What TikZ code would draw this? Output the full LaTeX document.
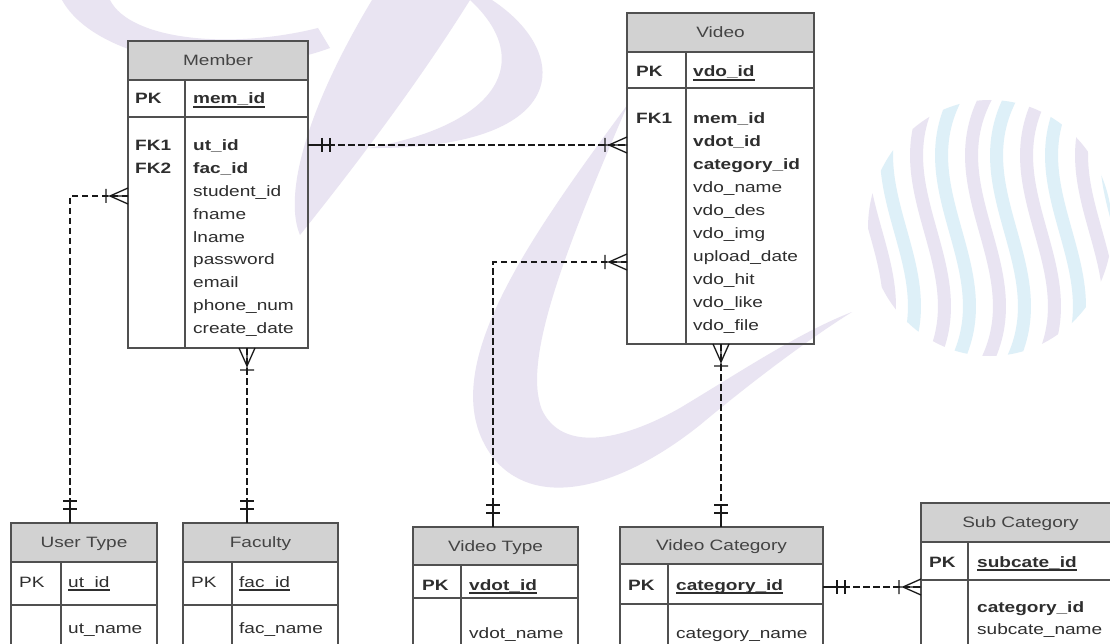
\documentclass[tikz,border=0pt]{standalone}
\usepackage{fontspec}
\setmainfont{Liberation Sans}[FakeStretch=1.27]
\usetikzlibrary{calc}

\definecolor{ink}{HTML}{2E2E2E}
\definecolor{titleink}{HTML}{444444}
\definecolor{frame}{HTML}{505050}
\definecolor{headfill}{HTML}{D2D2D2}
\definecolor{wmviolet}{HTML}{E9E4F2}
\definecolor{wmblue}{HTML}{DEF0F8}

% underlined primary key with a heavier rule
\newcommand\keyul[1]{\setbox0\hbox{#1}\rlap{\rule[-3.6pt]{\wd0}{1.2pt}}\box0}

% one entity: name, left, top, right, bottom, header bottom, key row bottom, divider x, title
\newcommand\entity[9]{%
  \node[tbox, minimum width={#4-#2}, minimum height={#5-#3}] (#1) at (#2,#3) {};
  \node[thead, minimum width={#4-#2}, minimum height={#6-#3}] (#1-head) at (#2,#3) {#9};
  \draw[rulel] (#2,#7) -- (#4,#7) (#8,#6) -- (#8,#5);
}

\begin{document}
\begin{tikzpicture}[x=1pt, y=-1pt,
  tbox/.style={draw=frame, line width=1.4pt, inner sep=0pt, outer sep=0pt, anchor=north west},
  thead/.style={tbox, fill=headfill, text=titleink, text height=10.7pt, text depth=0pt,
                font=\fontsize{15}{18}\selectfont},
  rulel/.style={draw=frame, line width=1.4pt},
  fld/.style={anchor=base west, inner sep=0pt, text=ink, font=\fontsize{15}{18}\selectfont},
  rel/.style={draw=black!90, line width=1.3pt, dash pattern=on 6.5pt off 3.5pt},
  relsolid/.style={draw=black!90, line width=1.3pt, solid},
  crowfoot/.pic={\draw[relsolid] (0,-8) -- (18,0) -- (0,8) (0,0) -- (22,0) (22,-7) -- (22,7);},
  onlyone/.pic={\draw[relsolid] (0,0) -- (23,0) (14,-7) -- (14,7) (22,-7) -- (22,7);}
]
\useasboundingbox (0,0) rectangle (1110,644);
\clip (0,0) rectangle (1110,644);
\fill[white] (0,0) rectangle (1110,644);

% ---- faint logo in the background ----
% sweeping loop at the top left
\fill[wmviolet] (62,0) .. controls (95,60) and (230,85) .. (330,48)
   -- (318,28) .. controls (230,50) and (130,40) .. (110,0) -- cycle;
% diagonal stroke from the top edge
\fill[wmviolet] (372,0) -- (470,0) .. controls (420,80) and (360,160) .. (300,235)
   .. controls (285,200) and (300,120) .. (372,0) -- cycle;
% bowl of the letter
\fill[wmviolet] (492,0) .. controls (575,55) and (570,150) .. (368,148)
   .. controls (500,125) and (535,60) .. (470,0) -- cycle;
% large open curve in the middle
\fill[wmviolet] (628,104) .. controls (520,250) and (430,380) .. (495,460)
   .. controls (540,512) and (625,485) .. (700,425)
   .. controls (760,375) and (815,335) .. (852,312)
   .. controls (800,332) and (740,372) .. (680,408)
   .. controls (620,442) and (562,452) .. (542,410)
   .. controls (522,360) and (565,250) .. (628,104) -- cycle;
% ribbon globe on the right
\begin{scope}
  \clip (990,228) ellipse [x radius=122, y radius=128];
  \foreach \s in {880,935,990,1045,1100}
    \draw[wmblue, line width=13pt] (\s+22,95) .. controls (\s-30,190) and (\s+70,270) .. (\s+20,365);
  \foreach \s in {855,910,965,1020,1075}
    \draw[wmviolet, line width=13pt] (\s+22,95) .. controls (\s-30,190) and (\s+70,270) .. (\s+20,365);
\end{scope}

% ---- entities ----
\entity{member}{128}{41}{308}{348}{80}{117}{185}{Member}
\entity{video}{627}{13}{814}{344}{52}{88}{686}{Video}
\entity{usertype}{11}{523}{157}{680}{562}{605}{61}{User Type}
\entity{faculty}{183}{523}{338}{680}{562}{605}{232}{Faculty}
\entity{vtype}{413}{527}{578}{680}{565}{598}{461}{Video Type}
\entity{vcat}{620}{527}{823}{680}{564}{604}{668}{Video Category}
\entity{subcat}{921}{503}{1120}{680}{542}{580}{968}{Sub Category}

% Member
\node[fld] (member-pk) at (135,104) {\textbf{PK}};
\node[fld] (member-key) at (193,104) {\keyul{\textbf{mem\_id}}};
\node[fld] (member-fk1) at (135,151) {\textbf{FK1}};
\node[fld] (member-fk2) at (135,173.8) {\textbf{FK2}};
\foreach \t [count=\i] in {\textbf{ut\_id}, \textbf{fac\_id}, student\_id, fname, lname,
    password, email, phone\_num, create\_date}
  \node[fld] (member-f\i) at (193,{151+22.8*(\i-1)}) {\t};

% Video
\node[fld] (video-pk) at (636,77) {\textbf{PK}};
\node[fld] (video-key) at (693,77) {\keyul{\textbf{vdo\_id}}};
\node[fld] (video-fk1) at (636,124) {\textbf{FK1}};
\foreach \t [count=\i] in {\textbf{mem\_id}, \textbf{vdot\_id}, \textbf{category\_id}, vdo\_name,
    vdo\_des, vdo\_img, upload\_date, vdo\_hit, vdo\_like, vdo\_file}
  \node[fld] (video-f\i) at (693,{124+22.9*(\i-1)}) {\t};

% User Type
\node[fld] (usertype-pk) at (19,587) {PK};
\node[fld] (usertype-key) at (68,587) {\keyul{ut\_id}};
\node[fld] (usertype-f1) at (68,633) {ut\_name};

% Faculty
\node[fld] (faculty-pk) at (191,587) {PK};
\node[fld] (faculty-key) at (239,587) {\keyul{fac\_id}};
\node[fld] (faculty-f1) at (239,633) {fac\_name};

% Video Type
\node[fld] (vtype-pk) at (422,590) {\textbf{PK}};
\node[fld] (vtype-key) at (469,590) {\keyul{\textbf{vdot\_id}}};
\node[fld] (vtype-f1) at (469,638) {vdot\_name};

% Video Category
\node[fld] (vcat-pk) at (628,590) {\textbf{PK}};
\node[fld] (vcat-key) at (676,590) {\keyul{\textbf{category\_id}}};
\node[fld] (vcat-f1) at (676,638) {category\_name};

% Sub Category
\node[fld] (subcat-pk) at (929,567) {\textbf{PK}};
\node[fld] (subcat-key) at (977,567) {\keyul{\textbf{subcate\_id}}};
\node[fld] (subcat-f1) at (977,612) {\textbf{category\_id}};
\node[fld] (subcat-f2) at (977,634) {subcate\_name};

% ---- relationships ----
% Member >-- User Type
\draw[rel] (member.west |- 0,196) -| (usertype.north -| 70,0);
\pic[rotate=180] at (member.west |- 0,196) {crowfoot};
\pic[rotate=90] at (usertype.north -| 70,0) {onlyone};

% Member >-- Faculty
\draw[rel] (member.south -| 247,0) -- (faculty.north -| 247,0);
\pic[rotate=-90] at (member.south -| 247,0) {crowfoot};
\pic[rotate=90] at (faculty.north -| 247,0) {onlyone};

% Member --< Video
\draw[rel] (member.east |- 0,145) -- (video.west |- 0,145);
\pic at (member.east |- 0,145) {onlyone};
\pic[rotate=180] at (video.west |- 0,145) {crowfoot};

% Video >-- Video Type
\draw[rel] (video.west |- 0,262) -| (vtype.north -| 493,0);
\pic[rotate=180] at (video.west |- 0,262) {crowfoot};
\pic[rotate=90] at (vtype.north -| 493,0) {onlyone};

% Video >-- Video Category
\draw[rel] (video.south -| 721,0) -- (vcat.north -| 721,0);
\pic[rotate=-90] at (video.south -| 721,0) {crowfoot};
\pic[rotate=90] at (vcat.north -| 721,0) {onlyone};

% Video Category --< Sub Category
\draw[rel] (vcat.east |- 0,587) -- (subcat.west |- 0,587);
\pic at (vcat.east |- 0,587) {onlyone};
\pic[rotate=180] at (subcat.west |- 0,587) {crowfoot};
\end{tikzpicture}
\end{document}
